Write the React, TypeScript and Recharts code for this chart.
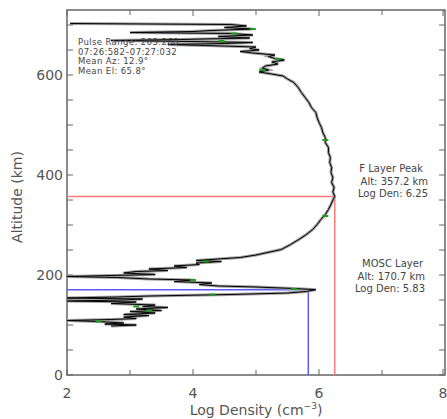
import { LineChart, Line, XAxis, YAxis, ReferenceLine, ReferenceArea } from "recharts"

// electron density profile, altitude (km) vs log density
const ALTITUDE_KM = [
    98, 100, 102, 104, 107, 109, 111, 113, 116, 119, 121, 124, 127, 129, 132, 135, 137, 140, 143, 146,
    148, 150, 152, 154, 156, 158, 161, 164, 167, 170.7, 173, 176, 178, 181, 184, 187, 190, 192, 195, 197,
    199, 201, 204, 207, 209, 212, 215, 218, 221, 224, 227, 229, 232, 235, 240, 251, 261, 271, 281, 291,
    301, 311, 321, 331, 341, 350, 357.2, 366, 375, 385, 395, 405, 415, 425, 435, 445, 455, 465, 475, 485,
    495, 505, 515, 525, 535, 545, 555, 565, 575, 585, 592, 598, 602, 606, 610, 614, 618, 622, 626, 630,
    633, 637, 640, 644, 647, 650, 653, 656, 659, 661, 663, 665, 667, 669, 671, 674, 677, 680, 683, 685,
    687, 689, 692, 695, 698, 701, 703,
]
const LOG_DENSITY = [
    2.7, 3.1, 2.6, 2.9, 2.5, 2.0, 2.7, 3.1, 2.9, 3.3, 2.9, 3.4, 3.0, 3.5, 3.1, 3.6, 3.2, 3.4, 2.7, 3.1,
    2.0, 2.9, 3.2, 2.0, 2.8, 3.3, 4.6, 5.5, 5.8, 5.95, 5.6, 5.0, 4.4, 4.1, 4.3, 3.7, 4.0, 3.3, 2.8, 2.0,
    2.7, 3.4, 2.9, 3.1, 3.6, 3.3, 3.9, 3.7, 4.1, 4.05, 4.45, 4.05, 4.4, 4.75, 5.0, 5.4, 5.55, 5.68, 5.8, 5.9,
    5.97, 6.03, 6.1, 6.15, 6.19, 6.22, 6.25, 6.22, 6.24, 6.2, 6.22, 6.19, 6.2, 6.17, 6.18, 6.15, 6.15, 6.1, 6.1, 6.06,
    6.04, 6.0, 5.97, 5.95, 5.88, 5.84, 5.78, 5.72, 5.67, 5.6, 5.5, 5.43, 5.25, 5.05, 5.2, 5.1, 5.15, 5.35, 5.25, 5.45,
    5.3, 5.2, 5.3, 4.95, 4.75, 5.05, 4.9, 5.0, 4.2, 3.6, 4.5, 4.95, 4.0, 2.7, 3.8, 4.9, 4.4, 4.95, 4.6, 3.0,
    4.0, 4.3, 4.95, 4.5, 4.85, 4.6, 2.05,
]

// green flagged samples
const GREEN_ALT = [107, 129, 137, 161, 172, 190, 227, 318, 470, 610, 632, 668, 683, 692]
const GREEN_DEN = [2.5, 3.3, 3.1, 4.3, 5.6, 4.0, 4.2, 6.1, 6.1, 5.1, 5.35, 4.45, 4.65, 4.95]

const F_PEAK = { alt: 357.2, den: 6.25 }
const MOSC = { alt: 170.7, den: 5.83 }

const X_TICKS = [2, 3, 4, 5, 6, 7, 8]
const Y_TICKS = [0, 50, 100, 150, 200, 250, 300, 350, 400, 450, 500, 550, 600, 650, 700]

const profile = ALTITUDE_KM.map((alt, i) => ({ alt, den: LOG_DENSITY[i] }))
const greens = GREEN_ALT.map((alt, i) => ({ alt, den: GREEN_DEN[i] }))

const W = 447
const H = 419
const LEFT = 67
const RIGHT = 445
const TOP = 10
const BOTTOM = 375
const AXIS = "#666"
const TEXT = "#555"
const FONT = "'DejaVu Sans', Verdana, sans-serif"

const YTick = ({ y, payload }: any) => {
    const v = payload.value
    return (
        <g>
            <line x1={LEFT} x2={LEFT + 6} y1={y} y2={y} stroke={AXIS} />
            <line x1={RIGHT} x2={RIGHT - 6} y1={y} y2={y} stroke={AXIS} />
            {v % 200 === 0 && (
                <text x={LEFT - 4} y={y} dy={5} textAnchor="end" fontSize={14} fill={TEXT} fontFamily={FONT}>
                    {v}
                </text>
            )}
        </g>
    )
}

const XTick = ({ x, payload }: any) => {
    const v = payload.value
    const major = v % 2 === 0
    const len = major ? 6 : 5
    return (
        <g>
            <line x1={x} x2={x} y1={BOTTOM} y2={BOTTOM - len} stroke={AXIS} />
            <line x1={x} x2={x} y1={TOP} y2={TOP + len} stroke={AXIS} />
            {major && (
                <text x={x} y={BOTTOM + 23} textAnchor="middle" fontSize={14} fill={TEXT} fontFamily={FONT}>
                    {v}
                </text>
            )}
        </g>
    )
}

const GreenDot = ({ cx, cy }: any) => <rect x={cx - 3} y={cy - 1} width={6} height={2} fill="#1aa01a" />

export default function App() {
    return (
        <div style={{ position: "absolute", left: 0, top: 0, width: W, height: H, background: "#fff" }}>
            <LineChart width={W} height={H} margin={{ top: TOP, right: W - RIGHT, bottom: 0, left: 0 }}>
                <XAxis
                    type="number"
                    dataKey="den"
                    domain={[2, 8]}
                    ticks={X_TICKS}
                    tick={<XTick />}
                    tickLine={false}
                    axisLine={false}
                    height={H - BOTTOM}
                    allowDataOverflow
                />
                <YAxis
                    type="number"
                    domain={[0, 730]}
                    ticks={Y_TICKS}
                    tick={<YTick />}
                    tickLine={false}
                    axisLine={false}
                    width={LEFT}
                    allowDataOverflow
                />
                <ReferenceArea x1={2} x2={8} y1={0} y2={730} fill="none" stroke={AXIS} strokeWidth={1.5} />
                <ReferenceLine segment={[{ x: F_PEAK.den, y: 0 }, { x: F_PEAK.den, y: F_PEAK.alt }]} stroke="#ff7a7a" strokeWidth={1.5} />
                <ReferenceLine segment={[{ x: 2, y: F_PEAK.alt }, { x: F_PEAK.den, y: F_PEAK.alt }]} stroke="#ff7a7a" strokeWidth={1.5} />
                <ReferenceLine segment={[{ x: MOSC.den, y: 0 }, { x: MOSC.den, y: MOSC.alt }]} stroke="#5a5aff" strokeWidth={1.5} />
                <ReferenceLine segment={[{ x: 2, y: MOSC.alt }, { x: MOSC.den, y: MOSC.alt }]} stroke="#5a5aff" strokeWidth={1.5} />
                <Line data={profile} dataKey="alt" stroke="#a0a0a0" strokeWidth={3} dot={false} isAnimationActive={false} />
                <Line data={profile} dataKey="alt" stroke="#000" strokeWidth={1} dot={false} isAnimationActive={false} />
                <Line data={greens} dataKey="alt" stroke="none" dot={<GreenDot />} isAnimationActive={false} />
            </LineChart>
            <svg width={W} height={H} style={{ position: "absolute", left: 0, top: 0, pointerEvents: "none" }}>
                <g fontFamily={FONT} fontSize={8.5} letterSpacing={0.4} fill="#444">
                    <text x={78} y={45}>Pulse Range: 263:268</text>
                    <text x={78} y={54.5}>07:26:582–07:27:032</text>
                    <text x={78} y={64}>Mean Az: 12.9°</text>
                    <text x={78} y={73.5}>Mean El: 65.8°</text>
                </g>
                <g fontFamily={FONT} fontSize={10} fill="#444" textAnchor="end">
                    <text x={423} y={172}>F Layer Peak</text>
                    <text x={428} y={185}>Alt: 357.2 km</text>
                    <text x={428} y={197}>Log Den: 6.25</text>
                    <text x={423} y={267}>MOSC Layer</text>
                    <text x={425} y={280}>Alt: 170.7 km</text>
                    <text x={425} y={292}>Log Den:  5.83</text>
                </g>
                <text x={22} y={197} transform="rotate(-90 22 197)" textAnchor="middle" fontFamily={FONT} fontSize={14} fill={TEXT}>
                    Altitude (km)
                </text>
                <text x={256} y={415} textAnchor="middle" fontFamily={FONT} fontSize={14} fill={TEXT}>
                    Log Density (cm<tspan dy={-6} fontSize={9}>−3</tspan><tspan dy={6}>)</tspan>
                </text>
            </svg>
        </div>
    )
}
